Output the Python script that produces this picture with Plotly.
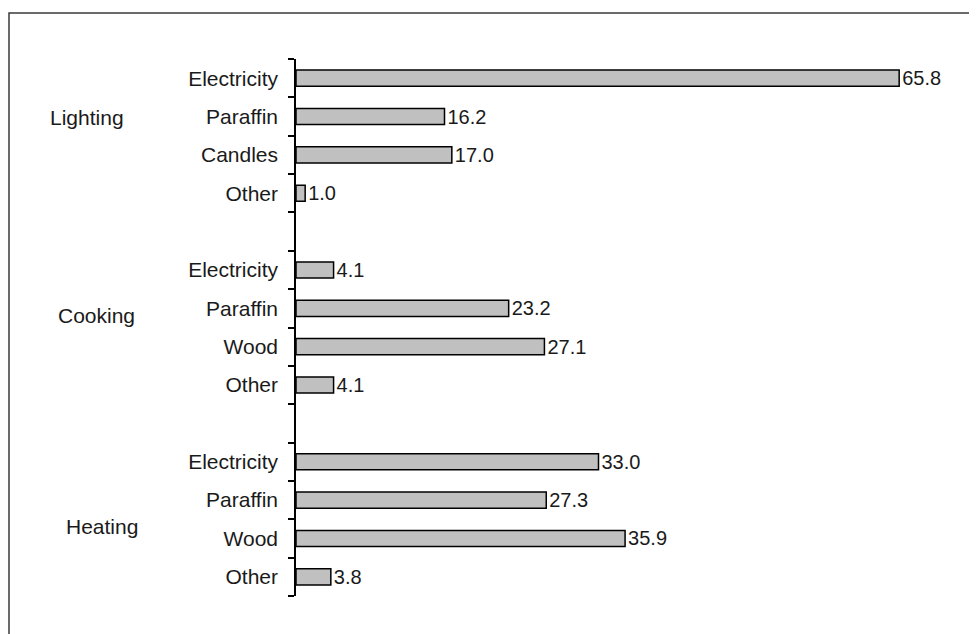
import plotly.graph_objects as go

# ---- data ----
groups = ["Lighting", "Cooking", "Heating"]
lighting_sources = ["Electricity", "Paraffin", "Candles", "Other"]
lighting_values = [65.8, 16.2, 17.0, 1.0]
cooking_sources = ["Electricity", "Paraffin", "Wood", "Other"]
cooking_values = [4.1, 23.2, 27.1, 4.1]
heating_sources = ["Electricity", "Paraffin", "Wood", "Other"]
heating_values = [33.0, 27.3, 35.9, 3.8]

group_sources = [lighting_sources, cooking_sources, heating_sources]
group_values = [lighting_values, cooking_values, heating_values]

# build slot positions (one blank slot between groups)
ypos, labels, vals, group_centers = [], [], [], []
slot = 0
for srcs, vs in zip(group_sources, group_values):
    start = slot
    for s, v in zip(srcs, vs):
        ypos.append(slot)
        labels.append(s)
        vals.append(v)
        slot += 1
    group_centers.append((start + slot - 1) / 2)
    slot += 1  # gap
last = ypos[-1]

FONT = "Liberation Sans, Arial, sans-serif"
TXT = "#1a1a1a"

fig = go.Figure(
    go.Bar(
        x=vals,
        y=ypos,
        orientation="h",
        width=0.42,
        marker=dict(color="#c0c0c0", line=dict(color="#000000", width=1.5)),
        texttemplate="%{x:.1f}",
        textposition="outside",
        constraintext="none",
        textfont=dict(family=FONT, size=20, color=TXT),
        cliponaxis=False,
        hoverinfo="skip",
    )
)

# page has an 8px body margin; figure is sized/offset to compensate
W, H = 969, 626
ml, mr, mt, mb = 288, 21, 51, 38
pw, ph = W - ml - mr, H - mt - mb

def px_to_paper_x(px):
    return (px - ml) / pw

def px_to_paper_y(py):
    return (H - mb - py) / ph

# group label placement (text sits slightly off group centre in the original)
label_dy = [-0.48, -0.31, 0.2]
label_cx = [79, 88, 94]
for g, c, dy, cx in zip(groups, group_centers, label_dy, label_cx):
    fig.add_annotation(
        x=px_to_paper_x(cx), xref="paper", y=c + dy, yref="y", text=g, showarrow=False,
        font=dict(family=FONT, size=21, color=TXT), xanchor="center", yanchor="middle",
    )

# outer frame (clipped at right/bottom in the original)
fig.add_shape(
    type="rect", xref="paper", yref="paper",
    x0=px_to_paper_x(1), x1=px_to_paper_x(1000),
    y0=px_to_paper_y(660), y1=px_to_paper_y(5),
    line=dict(color="#3a3a3a", width=1.5), fillcolor="rgba(0,0,0,0)", layer="above",
)

fig.update_layout(
    width=W, height=H,
    margin=dict(l=ml, r=mr, t=mt, b=mb),
    paper_bgcolor="white", plot_bgcolor="white",
    showlegend=False,
    xaxis=dict(range=[0, 72], visible=False, showgrid=False, zeroline=False),
    yaxis=dict(
        range=[last + 0.5, -0.5],
        tickmode="array", tickvals=ypos, ticktext=labels,
        ticks="", ticklabelstandoff=12,
        tickfont=dict(family=FONT, size=21, color=TXT),
        showline=True, linecolor="#000000", linewidth=1.5,
        showgrid=False, zeroline=False,
        minor=dict(
            tickmode="array",
            tickvals=[i - 0.5 for i in range(last + 2)],
            ticks="outside", ticklen=6, tickwidth=1.5, tickcolor="#000000",
            showgrid=False,
        ),
    ),
)

fig.write_html("out.html")
